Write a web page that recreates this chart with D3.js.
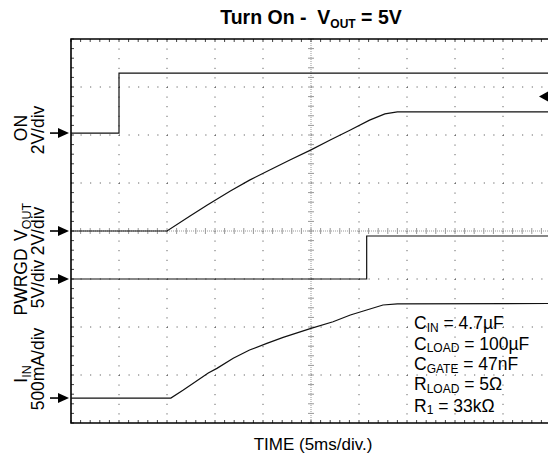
<!DOCTYPE html>
<html><head><meta charset="utf-8">
<script src="https://cdn.jsdelivr.net/npm/d3@7/dist/d3.min.js"></script>
<style>
html,body{margin:0;padding:0;background:#fff;}
svg{display:block;font-family:"Liberation Sans",Arial,Helvetica,sans-serif;}
text{white-space:pre;}
</style></head>
<body>
<svg id="chart" width="548" height="466"></svg>
<script>
// ---- data (time in ms, values in channel units) ----
const onTime   = [0, 5, 5, 50];
const onVolts  = [0, 0, 2.5, 2.5];

const voutTime  = [0, 10, 12.4, 14.2, 16.6, 18.6, 20.7, 22.8, 25, 27, 29.1, 31.1, 32.7, 34, 50];
const voutVolts = [0, 0, 0.62, 1.08, 1.67, 2.12, 2.54, 2.96, 3.38, 3.79, 4.21, 4.62, 4.88, 4.96, 4.96];

const pwrgdTime  = [0, 30.8, 30.8, 50];
const pwrgdVolts = [0, 0, 4.48, 4.48];

const iinTime = [0, 10.4, 11.7, 14.3, 15.2, 16.9, 18.6, 20.4, 22.1, 25, 27.3, 29.1, 30.8, 32.5, 34, 50];
const iinMilliAmps = [0, 0, 83, 260, 309, 414, 500, 570, 632, 726, 795, 865, 917, 969, 980, 985];

const channelNames = ["ON", "VOUT", "PWRGD", "IIN"];
const channelScales = [2, 2, 5, 500];          // units per division
const channelOffsets = [6.04, 4, 3, 0.52];     // zero level, divisions from bottom

const xTicks = d3.range(0, 55, 5);             // 5 ms/div
const yDivs = d3.range(0, 9, 1);
const notes = [
  ["C", "IN", " = 4.7\u00B5F"],
  ["C", "LOAD", " = 100\u00B5F"],
  ["C", "GATE", " = 47nF"],
  ["R", "LOAD", " = 5\u03A9"],
  ["R", "1", " = 33k\u03A9"]
];

// ---- layout ----
const svg = d3.select("#chart");
const x = d3.scaleLinear().domain([0, 50]).range([71, 551]);
const y = d3.scaleLinear().domain([0, 8]).range([423, 39]);
const minorX = d3.range(0, 50.01, 1);
const minorY = d3.range(0, 8.01, 0.2);

const g = svg.append("g");

// major dotted grid
g.selectAll(".vg").data(xTicks.filter(d => d > 0 && d < 50 && d !== 25)).enter().append("line")
  .attr("x1", d => x(d)).attr("x2", d => x(d)).attr("y1", y(8)).attr("y2", y(0))
  .attr("stroke", "#444").attr("stroke-width", 1).attr("stroke-dasharray", "1,8.6");
g.selectAll(".hg").data(yDivs.filter(d => d > 0 && d < 8 && d !== 4)).enter().append("line")
  .attr("y1", d => y(d)).attr("y2", d => y(d)).attr("x1", x(0)).attr("x2", x(50))
  .attr("stroke", "#444").attr("stroke-width", 1).attr("stroke-dasharray", "1,8.6");

// centre cross
g.append("line").attr("x1", x(25)).attr("x2", x(25)).attr("y1", y(8)).attr("y2", y(0))
  .attr("stroke", "#999").attr("stroke-dasharray", "1,1");
g.append("line").attr("y1", y(4)).attr("y2", y(4)).attr("x1", x(0)).attr("x2", x(50))
  .attr("stroke", "#999").attr("stroke-dasharray", "1,1");
g.selectAll(".ct").data(minorY).enter().append("line")
  .attr("x1", x(25) - 3).attr("x2", x(25) + 3).attr("y1", d => y(d)).attr("y2", d => y(d))
  .attr("stroke", "#999");
g.selectAll(".ch").data(minorX).enter().append("line")
  .attr("y1", y(4) - 3).attr("y2", y(4) + 3).attr("x1", d => x(d)).attr("x2", d => x(d))
  .attr("stroke", "#999");

// border minor ticks
g.selectAll(".tt").data(minorX).enter().append("line")
  .attr("x1", d => x(d)).attr("x2", d => x(d)).attr("y1", y(8)).attr("y2", y(8) + 3)
  .attr("stroke", "#444");
g.selectAll(".bt").data(minorX).enter().append("line")
  .attr("x1", d => x(d)).attr("x2", d => x(d)).attr("y1", y(0)).attr("y2", y(0) - 3)
  .attr("stroke", "#444");
g.selectAll(".lt").data(minorY).enter().append("line")
  .attr("x1", x(0)).attr("x2", x(0) + 3).attr("y1", d => y(d)).attr("y2", d => y(d))
  .attr("stroke", "#444");

// frame
g.append("path")
  .attr("d", `M${x(50)},${y(8)} H${x(0)} V${y(0)} H${x(50)}`)
  .attr("fill", "none").attr("stroke", "#000").attr("stroke-width", 1.6);

// traces
const series = [
  [onTime, onVolts],
  [voutTime, voutVolts],
  [pwrgdTime, pwrgdVolts],
  [iinTime, iinMilliAmps]
];
series.forEach((s, i) => {
  const pts = s[0].map((t, k) => [t, s[1][k]]);
  const line = d3.line()
    .x(d => x(d[0]))
    .y(d => y(channelOffsets[i] + d[1] / channelScales[i]));
  g.append("path").attr("d", line(pts)).attr("fill", "none")
    .attr("stroke", "#111").attr("stroke-width", 1.2);
});

// channel markers
channelOffsets.forEach(o => {
  const yy = y(o);
  g.append("line").attr("x1", 50).attr("x2", 60).attr("y1", yy).attr("y2", yy)
    .attr("stroke", "#000").attr("stroke-width", 1.6);
  g.append("path").attr("d", `M58,${yy - 5} L69,${yy} L58,${yy + 5} Z`).attr("fill", "#000");
});
// trigger marker (right)
g.append("path").attr("d", `M539,${y(6.8)} L548,${y(6.8) - 5} L548,${y(6.8) + 5} Z`).attr("fill", "#000");

// title
const title = svg.append("text").attr("x", 311).attr("y", 24).attr("text-anchor", "middle")
  .attr("font-size", 19.5).attr("font-weight", "bold");
title.append("tspan").text("Turn On -  V");
title.append("tspan").attr("font-size", 12).attr("dy", 4).text("OUT");
title.append("tspan").attr("dy", -4).text(" = 5V");

// x label
svg.append("text").attr("x", 313).attr("y", 450).attr("text-anchor", "middle")
  .attr("font-size", 17).text("TIME (5ms/div.)");

// left labels
function rotLabel(xp, yp, main, sub) {
  const t = svg.append("text").attr("transform", `translate(${xp},${yp}) rotate(-90)`)
    .attr("text-anchor", "middle").attr("font-size", 17.5);
  t.append("tspan").text(main);
  if (sub) t.append("tspan").attr("font-size", 12.5).attr("dy", 4).text(sub);
}
rotLabel(27, 128, "ON");
rotLabel(44, 130, "2V/div");
rotLabel(27, 222, "V", "OUT");
rotLabel(44, 231, "2V/div");
rotLabel(27, 282, "PWRGD");
rotLabel(44, 284, "5V/div");
rotLabel(27, 374, "I", "IN");
rotLabel(44, 369, "500mA/div");

// notes
const noteBase = [329, 349.5, 370, 390, 411.5];
notes.forEach((n, i) => {
  const t = svg.append("text").attr("x", 414).attr("y", noteBase[i]).attr("font-size", 17.5);
  t.append("tspan").text(n[0]);
  t.append("tspan").attr("font-size", 12).attr("dy", 2.8).text(n[1]);
  t.append("tspan").attr("dy", -2.8).text(n[2]);
});
</script>
</body></html>
